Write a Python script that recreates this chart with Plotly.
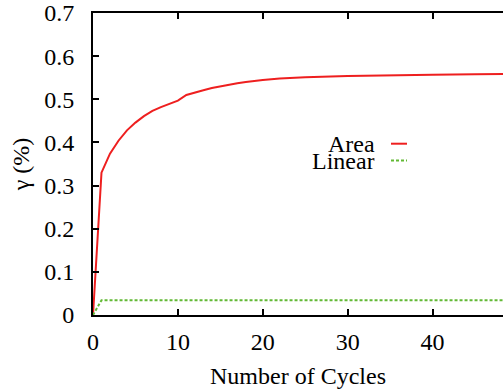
import plotly.graph_objects as go

# Data
area_x = [0, 1, 2, 3, 4, 5, 6, 7, 8, 9, 10, 11, 12, 13, 14, 15, 16, 17, 18, 19, 20,
          22, 25, 30, 35, 40, 45, 50]
area_y = [0, 0.330, 0.374, 0.404, 0.428, 0.446, 0.461, 0.473, 0.482, 0.490, 0.497,
          0.510, 0.516, 0.521, 0.526, 0.530, 0.534, 0.537, 0.540, 0.543, 0.545,
          0.548, 0.551, 0.554, 0.556, 0.557, 0.558, 0.559]
linear_x = [0, 1, 50]
linear_y = [0, 0.034, 0.034]

x_ticks = [0, 10, 20, 30, 40]
y_ticks = [0, 0.1, 0.2, 0.3, 0.4, 0.5, 0.6, 0.7]
y_ticklabels = ["0", "0.1", "0.2", "0.3", "0.4", "0.5", "0.6", "0.7"]

RED = "#ee1f1f"
GREEN = "#62b934"
FONT = "Liberation Serif"
FS = 24

fig = go.Figure()
fig.add_trace(go.Scatter(x=area_x, y=area_y, mode="lines", name="Area",
                         line=dict(color=RED, width=2), showlegend=False))
fig.add_trace(go.Scatter(x=linear_x, y=linear_y, mode="lines", name="Linear",
                         line=dict(color=GREEN, width=2, dash="3px,2px"), showlegend=False))

W, H = 503, 389
L, R, T, B = 93, 0, 10, 74
pw = W - L - R
ph = H - T - B

def px_x(p):
    return (p - L) / pw

def px_y(p):
    return (H - B - p) / ph

# Legend (text right-aligned with line sample on the right)
legend_items = [("Area", RED, "solid", 142), ("Linear", GREEN, "3px,2px", 159)]
for name, col, dash, yy in legend_items:
    fig.add_annotation(x=px_x(377), y=px_y(yy), xref="paper", yref="paper",
                       text=name, showarrow=False, xanchor="right", yanchor="middle",
                       height=16, valign="middle",
                       font=dict(family=FONT, size=FS, color="black"))
    fig.add_shape(type="line", xref="paper", yref="paper",
                  x0=px_x(391), x1=px_x(407), y0=px_y(yy), y1=px_y(yy),
                  line=dict(color=col, width=2, dash=dash))

fig.update_layout(
    width=W, height=H,
    margin=dict(l=L, r=R, t=T, b=B, pad=0),
    paper_bgcolor="white", plot_bgcolor="white",
    font=dict(family=FONT, size=FS, color="black"),
    xaxis=dict(range=[0, 48.3], tickmode="array", tickvals=x_ticks,
               ticks="inside", ticklen=6, tickwidth=2, tickcolor="black",
               showline=True, linewidth=2, linecolor="black", mirror="ticks",
               showgrid=False, zeroline=False, ticklabelstandoff=4,
               ticklabeloverflow="allow",
               title=dict(text="Number of Cycles", standoff=14,
                          font=dict(family=FONT, size=FS))),
    yaxis=dict(range=[0, 0.7001], tickmode="array", tickvals=y_ticks, ticktext=y_ticklabels,
               ticks="inside", ticklen=6, tickwidth=2, tickcolor="black",
               showline=True, linewidth=2, linecolor="black", mirror=False,
               showgrid=False, zeroline=False, ticklabelstandoff=12,
               ticklabeloverflow="allow",
               title=dict(text="γ (%)", standoff=8,
                          font=dict(family=FONT, size=FS))),
)

fig.write_html("out.html")
